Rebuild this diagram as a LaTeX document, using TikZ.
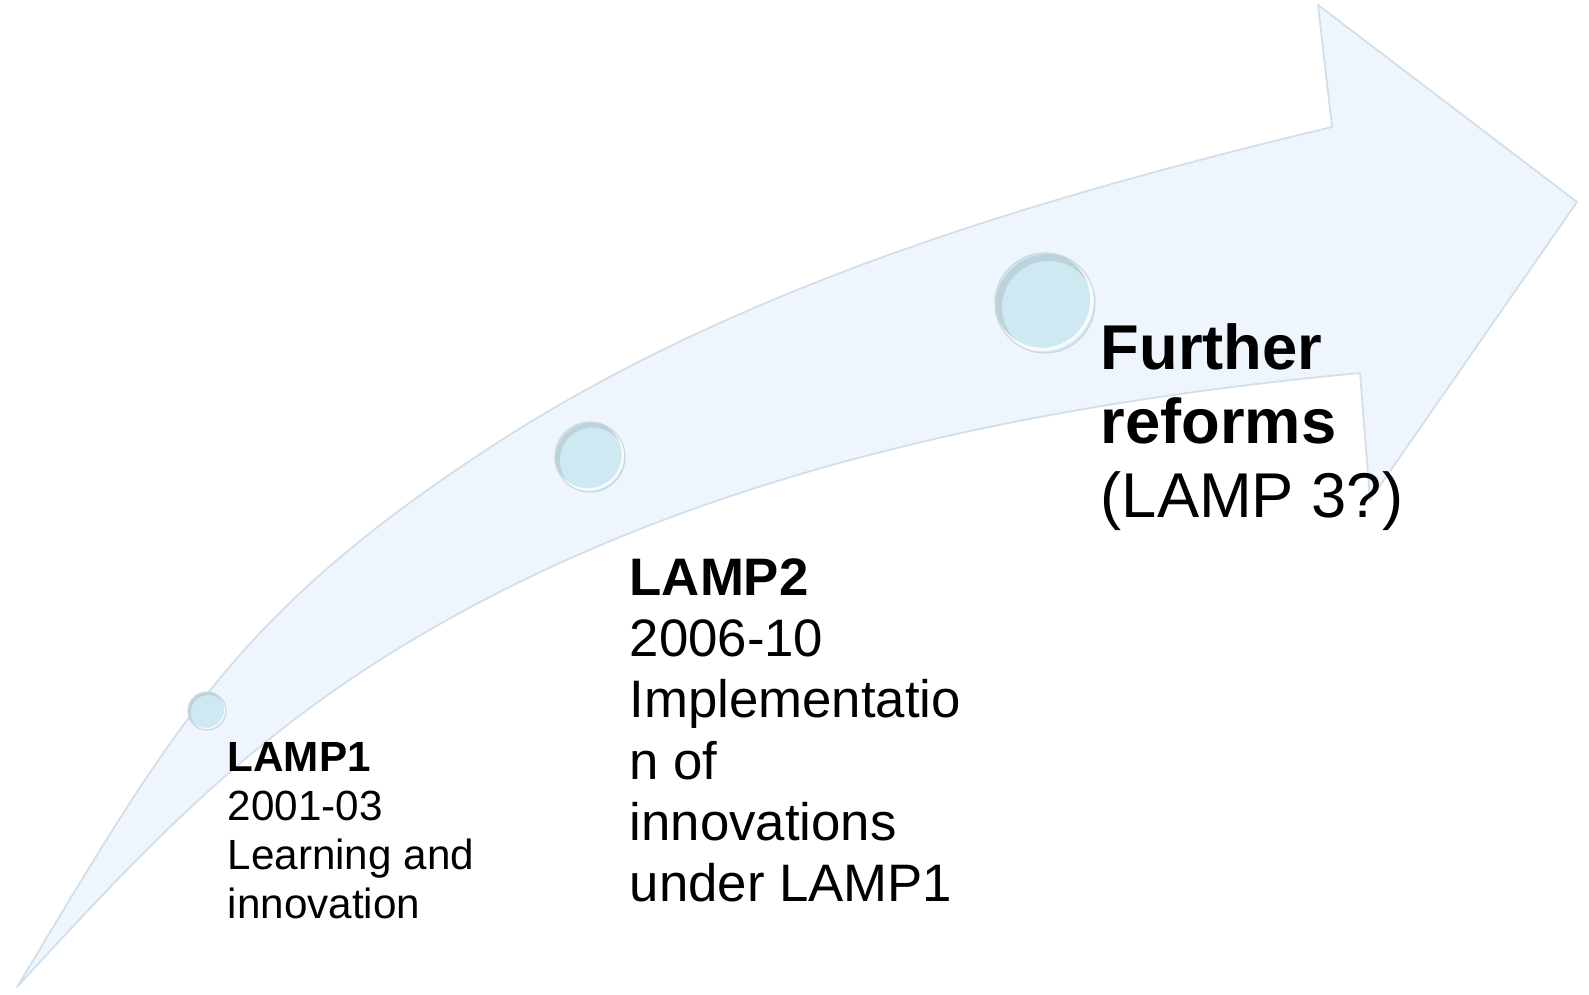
\documentclass[tikz,border=0pt]{standalone}
\usepackage{fontspec}
\setmainfont{Liberation Sans}
\definecolor{arrowfill}{RGB}{238,245,253}
\definecolor{arrowedge}{RGB}{210,222,232}
\definecolor{bubC}{RGB}{206,233,242}
\definecolor{bubM}{RGB}{190,217,228}
\definecolor{bubD}{RGB}{140,166,180}
\pgfdeclareradialshading{bubbleshade}{\pgfpoint{5bp}{-5bp}}{color(0bp)=(bubC); color(28bp)=(bubC); color(40bp)=(bubM); color(48bp)=(bubD); color(60bp)=(bubD)}
\tikzset{
  bubble/.style={circle, inner sep=0pt, minimum size=#1, shading=bubbleshade,
    draw=bubD!45!white, line width=0.3pt,
    path picture={
      \draw[bubD!70!white, opacity=0.55, line width=0.07*#1]
        ([xshift=0.035*#1, yshift=-0.045*#1]path picture bounding box.center) circle[radius=0.5*#1];
      \draw[white, opacity=0.85, line width=0.035*#1]
        ([xshift=-0.03*#1, yshift=0.035*#1]path picture bounding box.center) circle[radius=0.5*#1];
    }},
  lbl/.style={anchor=north west, inner sep=0pt, align=left, text=black},
}
\begin{document}
\begin{tikzpicture}[x=0.01cm, y=-0.01cm]
\useasboundingbox (0,0) rectangle (1589,995);
% curved arrow
\filldraw[fill=arrowfill, draw=arrowedge, line width=0.5pt, line join=round]
  (17,987) .. controls (172,730) and (233,617) .. (483,452)
           .. controls (733.5,286.7) and (1040.4,196.9) .. (1332,127)
  -- (1318,5) -- (1577,202) -- (1370,500) -- (1360,373)
  .. controls (1046.4,402.6) and (722,466.3) .. (447,620)
  .. controls (263.7,722.5) and (159,832) .. (17,987)
  -- cycle;
% bubbles
\node[bubble=0.38cm] (b1) at (207,711) {};
\node[bubble=0.70cm] (b2) at (590,457) {};
\node[bubble=1.00cm] (b3) at (1045,303) {};
% labels
\node[lbl, font=\fontsize{12pt}{13.9pt}\selectfont] (t1) at (227,737) {\strut\textbf{LAMP1}\\2001-03\\Learning and\\innovation};
\node[lbl, font=\fontsize{15pt}{17.4pt}\selectfont] (t2) at (629,552) {\strut\textbf{LAMP2}\\2006-10\\Implementatio\\n of\\innovations\\under LAMP1};
\node[lbl, font=\fontsize{18pt}{21pt}\selectfont] (t3) at (1100,317) {\strut\textbf{Further}\\\textbf{reforms}\\(LAMP 3?)};
\end{tikzpicture}
\end{document}
